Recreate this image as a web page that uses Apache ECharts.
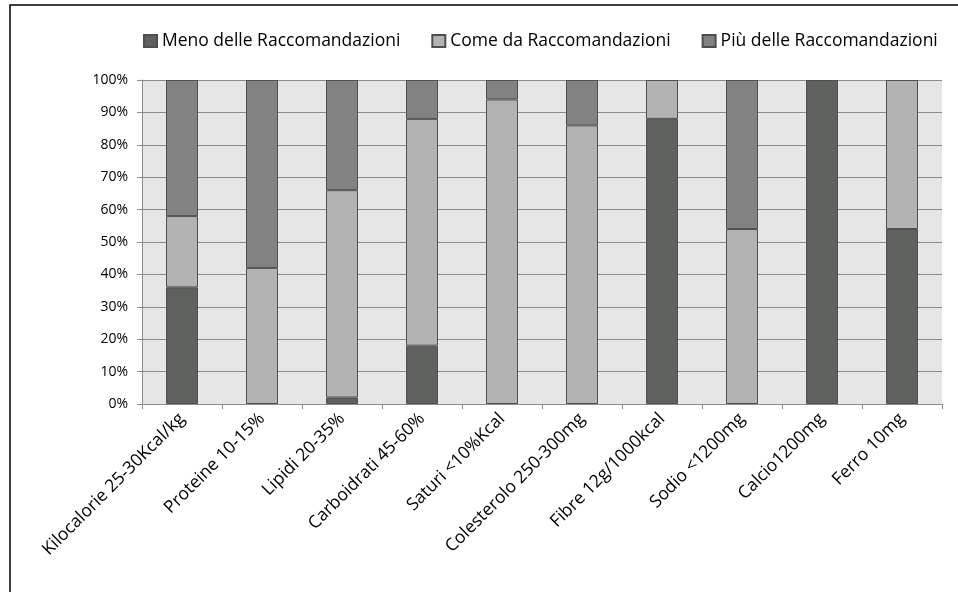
<!DOCTYPE html>
<html>
<head>
<meta charset="utf-8">
<script src="https://cdn.jsdelivr.net/npm/echarts@6/dist/echarts.min.js"></script>
<style>
	html, body { margin: 0; padding: 0; background: #fff; }
	#chartContainer { width: 958px; height: 592px; }
</style>
</head>
<body>
<div id="chartContainer"></div>
<script>
	var categories = ['Kilocalorie 25-30Kcal/kg', 'Proteine 10-15%', 'Lipidi 20-35%', 'Carboidrati 45-60%',
		'Saturi <10%Kcal', 'Colesterolo 250-300mg', 'Fibre 12g/1000kcal', 'Sodio <1200mg', 'Calcio1200mg', 'Ferro 10mg'];
	var seriesNames = ['Meno delle Raccomandazioni', 'Come da Raccomandazioni', 'Più delle Raccomandazioni'];
	var menoData = [36, 0, 2, 18, 0, 0, 88, 0, 100, 54];
	var comeData = [22, 42, 64, 70, 94, 86, 12, 54, 0, 46];
	var piuData = [42, 58, 34, 12, 6, 14, 0, 46, 0, 0];

	var font = 'Open Sans';
	var myChart = echarts.init(document.getElementById('chartContainer'));

	function barSeries(name, data, color) {
		return {
			name: name,
			type: 'bar',
			stack: 'tot',
			barWidth: 32,
			// zero segments are left out so they draw no border line
			data: data.map(function (v) { return v === 0 ? '-' : v; }),
			itemStyle: {
				color: color,
				borderColor: '#4f4f4f',
				borderWidth: 1
			}
		};
	}

	var option = {
		animation: false,
		backgroundColor: '#fff',
		graphic: [{
			type: 'rect',
			shape: { x: 10, y: 5, width: 1000, height: 1000 },
			style: { fill: 'none', stroke: '#000', lineWidth: 1.5 }
		}],
		legend: {
			top: 27,
			left: 138,
			itemWidth: 13,
			itemHeight: 12,
			itemGap: 31,
			icon: 'rect',
			textStyle: { fontFamily: font, fontSize: 17.5, color: '#000' },
			data: seriesNames
		},
		grid: {
			left: 142,
			right: 16,
			top: 80,
			bottom: 188,
			show: true,
			backgroundColor: '#e6e6e6',
			borderWidth: 0
		},
		xAxis: {
			type: 'category',
			data: categories,
			axisLine: { lineStyle: { color: '#8c8c8c', width: 1 } },
			axisTick: { show: true, alignWithLabel: false, length: 5, lineStyle: { color: '#8c8c8c' } },
			axisLabel: {
				rotate: 45,
				interval: 0,
				margin: 12,
				color: '#000',
				fontFamily: font,
				fontSize: 17.5
			}
		},
		yAxis: {
			type: 'value',
			min: 0,
			max: 100,
			interval: 10,
			axisLine: { show: true, lineStyle: { color: '#8c8c8c' } },
			axisTick: { show: true, length: 5, lineStyle: { color: '#8c8c8c' } },
			axisLabel: {
				formatter: '{value}%',
				margin: 14,
				color: '#000',
				fontFamily: font,
				fontSize: 14
			},
			splitLine: { lineStyle: { color: '#8c8c8c', width: 1 } }
		},
		series: [
			barSeries(seriesNames[0], menoData, '#5f615f'),
			barSeries(seriesNames[1], comeData, '#b3b3b3'),
			barSeries(seriesNames[2], piuData, '#828282')
		]
	};

	myChart.setOption(option);
</script>
</body>
</html>
